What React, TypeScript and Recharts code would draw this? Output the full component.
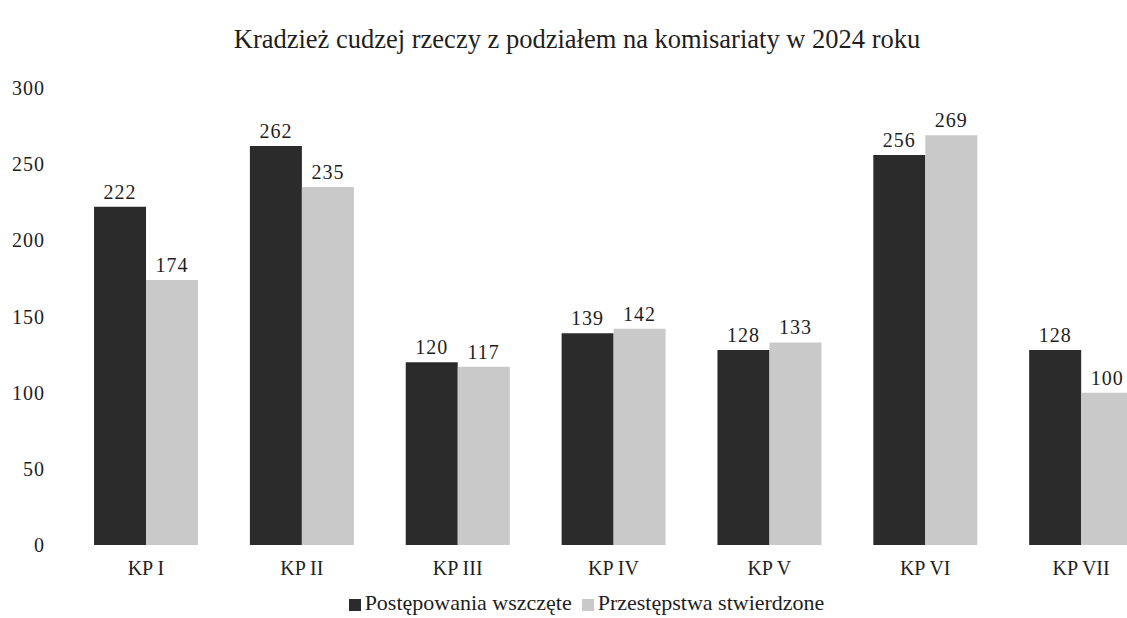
import React from 'react';
import { BarChart, Bar, XAxis, YAxis, Legend, LabelList } from 'recharts';

const categories = ['KP I', 'KP II', 'KP III', 'KP IV', 'KP V', 'KP VI', 'KP VII'];
const postepowania = [222, 262, 120, 139, 128, 256, 128];
const przestepstwa = [174, 235, 117, 142, 133, 269, 100];
const yTicks = [0, 50, 100, 150, 200, 250, 300];

const data = categories.map((name, i) => ({
  name,
  postepowania: postepowania[i],
  przestepstwa: przestepstwa[i],
}));

const font = '"Liberation Serif", "DejaVu Serif", serif';

const App = () => {
  return (
    <div style={{ position: 'fixed', left: 0, top: 0, width: 1127, height: 618, overflow: 'hidden', background: '#fff', fontFamily: font }}>
      <div style={{ position: 'absolute', left: 0, top: 24, width: 1154, textAlign: 'center', fontSize: 26.5, color: '#1e1e1e' }}>
        Kradzież cudzej rzeczy z podziałem na komisariaty w 2024 roku
      </div>
      <BarChart
        width={1159}
        height={618}
        data={data}
        margin={{ top: 88, right: 0, bottom: 0, left: 0 }}
        barCategoryGap="16.7%"
        barGap={0}
      >
        <XAxis
          dataKey="name"
          axisLine={false}
          tickLine={false}
          tickMargin={10}
          height={45}
          tick={{ fill: '#1e1e1e', fontSize: 20, fontFamily: font }}
        />
        <YAxis
          domain={[0, 300]}
          ticks={yTicks}
          axisLine={false}
          tickLine={false}
          tickSize={0}
          tickMargin={23}
          width={68}
          tick={{ fill: '#1e1e1e', fontSize: 20, fontFamily: font, letterSpacing: 1 }}
        />
        <Legend
          verticalAlign="bottom"
          iconType="square"
          iconSize={12}
          wrapperStyle={{ fontFamily: font, fontSize: 22, paddingLeft: 12, paddingBottom: 2 }}
          formatter={(value) => <span style={{ color: '#1e1e1e' }}>{value}</span>}
        />
        <Bar dataKey="postepowania" name="Postępowania wszczęte" fill="#2b2b2b" isAnimationActive={false}>
          <LabelList dataKey="postepowania" position="top" offset={8} fill="#1e1e1e" fontSize={20} fontFamily={font} letterSpacing={1} />
        </Bar>
        <Bar dataKey="przestepstwa" name="Przestępstwa stwierdzone" fill="#c9c9c9" isAnimationActive={false}>
          <LabelList dataKey="przestepstwa" position="top" offset={8} fill="#1e1e1e" fontSize={20} fontFamily={font} letterSpacing={1} />
        </Bar>
      </BarChart>
    </div>
  );
};

export default App;
